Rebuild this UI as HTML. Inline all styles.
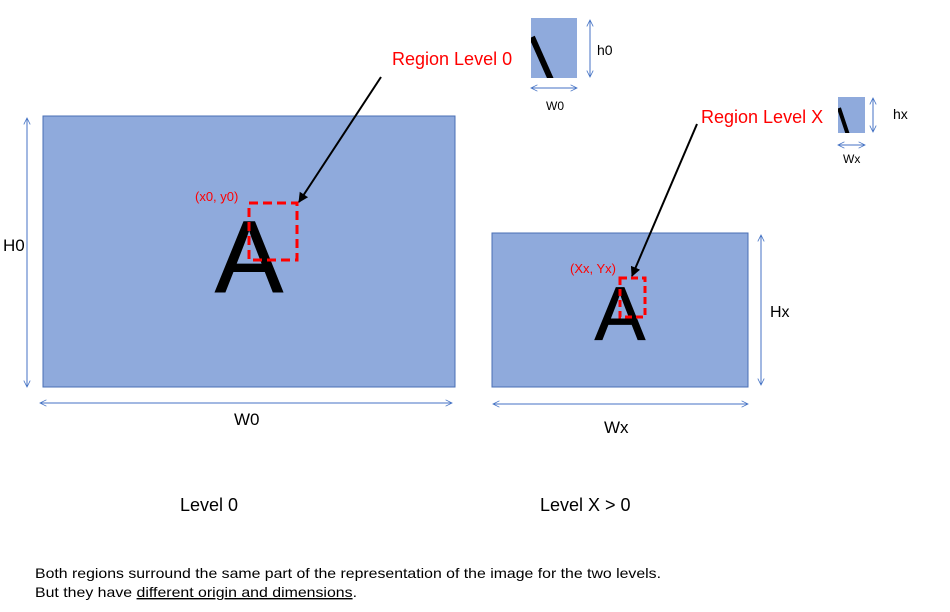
<!DOCTYPE html>
<html><head><meta charset="utf-8"><style>
html,body{margin:0;padding:0;background:#fff;}
svg{display:block;}
</style></head><body>
<svg width="950" height="612" viewBox="0 0 950 612" xmlns="http://www.w3.org/2000/svg" font-family="Liberation Sans, sans-serif">
<defs>
<marker id="ob" viewBox="0 0 10 10" refX="9" refY="5" markerWidth="8" markerHeight="8" orient="auto-start-reverse" markerUnits="userSpaceOnUse"><path d="M1,1 L9,5 L1,9" fill="none" stroke="#4472c4" stroke-width="1"/></marker>
<marker id="ah" viewBox="0 0 10 10" refX="9" refY="5" markerWidth="10" markerHeight="10" orient="auto" markerUnits="userSpaceOnUse"><path d="M0,0 L10,5 L0,10 Z" fill="#000"/></marker>
<clipPath id="c1"><rect x="531" y="18" width="46" height="60"/></clipPath>
<clipPath id="c2"><rect x="838" y="97" width="27" height="36"/></clipPath>
</defs>
<rect x="43" y="116" width="412" height="271" fill="#8faadc" stroke="#4a6fb5" stroke-width="1"/>
<text x="249" y="292" font-size="102" text-anchor="middle" fill="#000" stroke="#000" stroke-width="1">A</text>
<rect x="249" y="203" width="48" height="57" fill="none" stroke="#ff0000" stroke-width="3" stroke-dasharray="9,5"/>
<text x="195" y="201" font-size="13" fill="#ff0000">(x0, y0)</text>
<line x1="27" y1="118" x2="27" y2="387" stroke="#4472c4" marker-start="url(#ob)" marker-end="url(#ob)"/>
<line x1="40" y1="403" x2="452" y2="403" stroke="#4472c4" marker-start="url(#ob)" marker-end="url(#ob)"/>
<text x="3" y="251" font-size="17" fill="#000">H0</text>
<text x="234" y="425" font-size="17" fill="#000">W0</text>
<rect x="492" y="233" width="256" height="154" fill="#8faadc" stroke="#4a6fb5" stroke-width="1"/>
<text x="620" y="340" font-size="76" text-anchor="middle" fill="#000" stroke="#000" stroke-width="0.8">A</text>
<rect x="620" y="278" width="25" height="39" fill="none" stroke="#ff0000" stroke-width="3" stroke-dasharray="7,4"/>
<text x="570" y="273" font-size="13" fill="#ff0000">(Xx, Yx)</text>
<line x1="761" y1="235" x2="761" y2="385" stroke="#4472c4" marker-start="url(#ob)" marker-end="url(#ob)"/>
<line x1="493" y1="404" x2="748" y2="404" stroke="#4472c4" marker-start="url(#ob)" marker-end="url(#ob)"/>
<text x="770" y="317" font-size="16" fill="#000">Hx</text>
<text x="604" y="433" font-size="17" fill="#000">Wx</text>
<line x1="381" y1="77" x2="299" y2="202" stroke="#000" stroke-width="2" marker-end="url(#ah)"/>
<text x="392" y="65" font-size="18" fill="#ff0000">Region Level 0</text>
<line x1="697" y1="124" x2="632" y2="276" stroke="#000" stroke-width="2" marker-end="url(#ah)"/>
<text x="701" y="123" font-size="18" fill="#ff0000">Region Level X</text>
<rect x="531" y="18" width="46" height="60" fill="#8faadc"/>
<line x1="532" y1="37" x2="552" y2="82" stroke="#000" stroke-width="6" clip-path="url(#c1)"/>
<line x1="590" y1="20" x2="590" y2="77" stroke="#4472c4" marker-start="url(#ob)" marker-end="url(#ob)"/>
<line x1="531" y1="88" x2="577" y2="88" stroke="#4472c4" marker-start="url(#ob)" marker-end="url(#ob)"/>
<text x="597" y="55" font-size="14" fill="#000">h0</text>
<text x="546" y="110" font-size="12" fill="#000">W0</text>
<rect x="838" y="97" width="27" height="36" fill="#8faadc"/>
<line x1="839" y1="108" x2="848" y2="135" stroke="#000" stroke-width="4" clip-path="url(#c2)"/>
<line x1="873" y1="98" x2="873" y2="132" stroke="#4472c4" marker-start="url(#ob)" marker-end="url(#ob)"/>
<line x1="838" y1="145" x2="865" y2="145" stroke="#4472c4" marker-start="url(#ob)" marker-end="url(#ob)"/>
<text x="893" y="119" font-size="14" fill="#000">hx</text>
<text x="843" y="163" font-size="12" fill="#000">Wx</text>
<text x="180" y="511" font-size="18" fill="#000">Level 0</text>
<text x="540" y="511" font-size="18" fill="#000">Level X &gt; 0</text>
<text x="35" y="578" font-size="14" fill="#000" textLength="626" lengthAdjust="spacingAndGlyphs">Both regions surround the same part of the representation of the image for the two levels.</text>
<text x="35" y="597" font-size="14" fill="#000" textLength="322" lengthAdjust="spacingAndGlyphs">But they have <tspan text-decoration="underline">different origin and dimensions</tspan>.</text>
</svg>
</body></html>
